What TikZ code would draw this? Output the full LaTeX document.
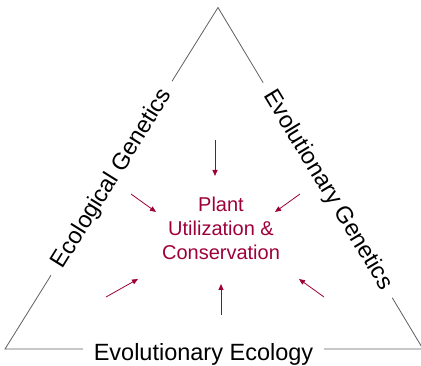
\documentclass[tikz,border=0pt]{standalone}
\usepackage{fontspec}
\setmainfont{Liberation Sans}
\usetikzlibrary{arrows.meta, calc}
\definecolor{plantRed}{RGB}{158,0,58}
\definecolor{edgeGrey}{RGB}{95,95,95}

\begin{document}
\begin{tikzpicture}[x=1pt, y=-1pt,
    edge/.style={draw=edgeGrey, line width=0.8pt},
    field/.style={fill=white, font=\fontsize{23.5}{28}\selectfont, inner xsep=11pt, inner ysep=2pt},
    hub/.style={text=plantRed, align=center, font=\fontsize{20}{24}\selectfont},
    feed/.style={draw=plantRed, line width=0.8pt, -{Triangle[length=6pt, width=5pt]}}]
  \useasboundingbox (0,0) rectangle (421,366);
  \coordinate (apex) at (218,7.5);
  \coordinate (left) at (5,349);
  \coordinate (right) at (423,349);
  \draw[edge] (left) -- (apex) -- (right) -- cycle;
  % the three fields sit on the edges and break them
  \node[field, rotate=58.05, yshift=-1pt] (ecogen) at ($(left)!0.5!(apex)$) {Ecological Genetics};
  \node[field, rotate=-58.8] (evogen) at ($(apex)!0.535!(right)$) {Evolutionary Genetics};
  \node[field, yshift=-5pt] (evoeco) at (203.5,349) {Evolutionary Ecology};
  % middle
  \node[hub] (plant) at (221,228) {Plant\\Utilization \&\\Conservation};
  \foreach \n/\tx/\ty/\hx/\hy in {n/215/140/215/176, nw/131/194/156/212, ne/300/194/275/212,
      sw/106/297/138/279, se/324/297/299/279, s/221/315/221/284} {
    \coordinate (tail-\n) at (\tx,\ty);
    \coordinate (head-\n) at (\hx,\hy);
    \draw[feed] (tail-\n) -- (head-\n);
  }
\end{tikzpicture}
\end{document}
